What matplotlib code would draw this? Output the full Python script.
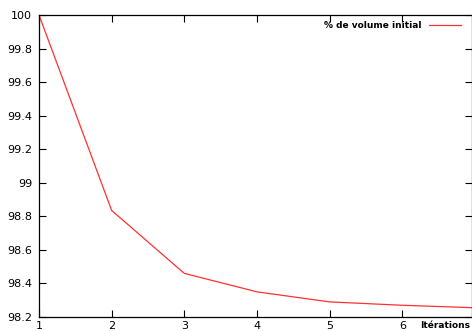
import matplotlib
matplotlib.use("Agg")
import matplotlib.pyplot as plt

# Data
iterations = [1, 2, 3, 4, 5, 6, 7]
volume_pct = [100.0, 98.835, 98.46, 98.35, 98.29, 98.27, 98.255]
y_ticks = [98.2, 98.4, 98.6, 98.8, 99.0, 99.2, 99.4, 99.6, 99.8, 100.0]
y_tick_labels = ["98.2", "98.4", "98.6", "98.8", "99", "99.2", "99.4", "99.6", "99.8", "100"]
x_ticks = [1, 2, 3, 4, 5, 6]

plt.rcParams['font.family'] = ['DejaVu Sans']

fig = plt.figure(figsize=(4.72, 3.31), dpi=100)
ax = fig.add_axes([39 / 472, 14 / 331, 433 / 472, 302 / 331])

ax.plot(iterations, volume_pct, color="#ff3030", linewidth=0.9, label="% de volume initial")

ax.set_xlim(1, 6.96)
ax.set_ylim(98.2, 100)
ax.set_xticks(x_ticks)
ax.set_yticks(y_ticks)
ax.set_yticklabels(y_tick_labels)
ax.tick_params(direction="in", length=5, width=0.8, top=True, right=True,
               labelsize=8, colors="black", pad=5)
ax.tick_params(axis="x", pad=3)
for s in ax.spines.values():
    s.set_linewidth(0.9)

# legend in gnuplot style: bold text, sample line to the right
leg = ax.legend(loc="upper right", frameon=False, markerfirst=False,
                prop={"weight": "bold", "size": 6.5}, handlelength=3.6,
                borderaxespad=0.3, handletextpad=0.8, bbox_to_anchor=(0.99, 1.0))

# x label at the bottom right, gnuplot style
fig.text(470 / 472, 3 / 331, "Itérations", ha="right", va="baseline",
         fontsize=6.5, fontweight="bold")

fig.savefig("out.png", dpi=100)
